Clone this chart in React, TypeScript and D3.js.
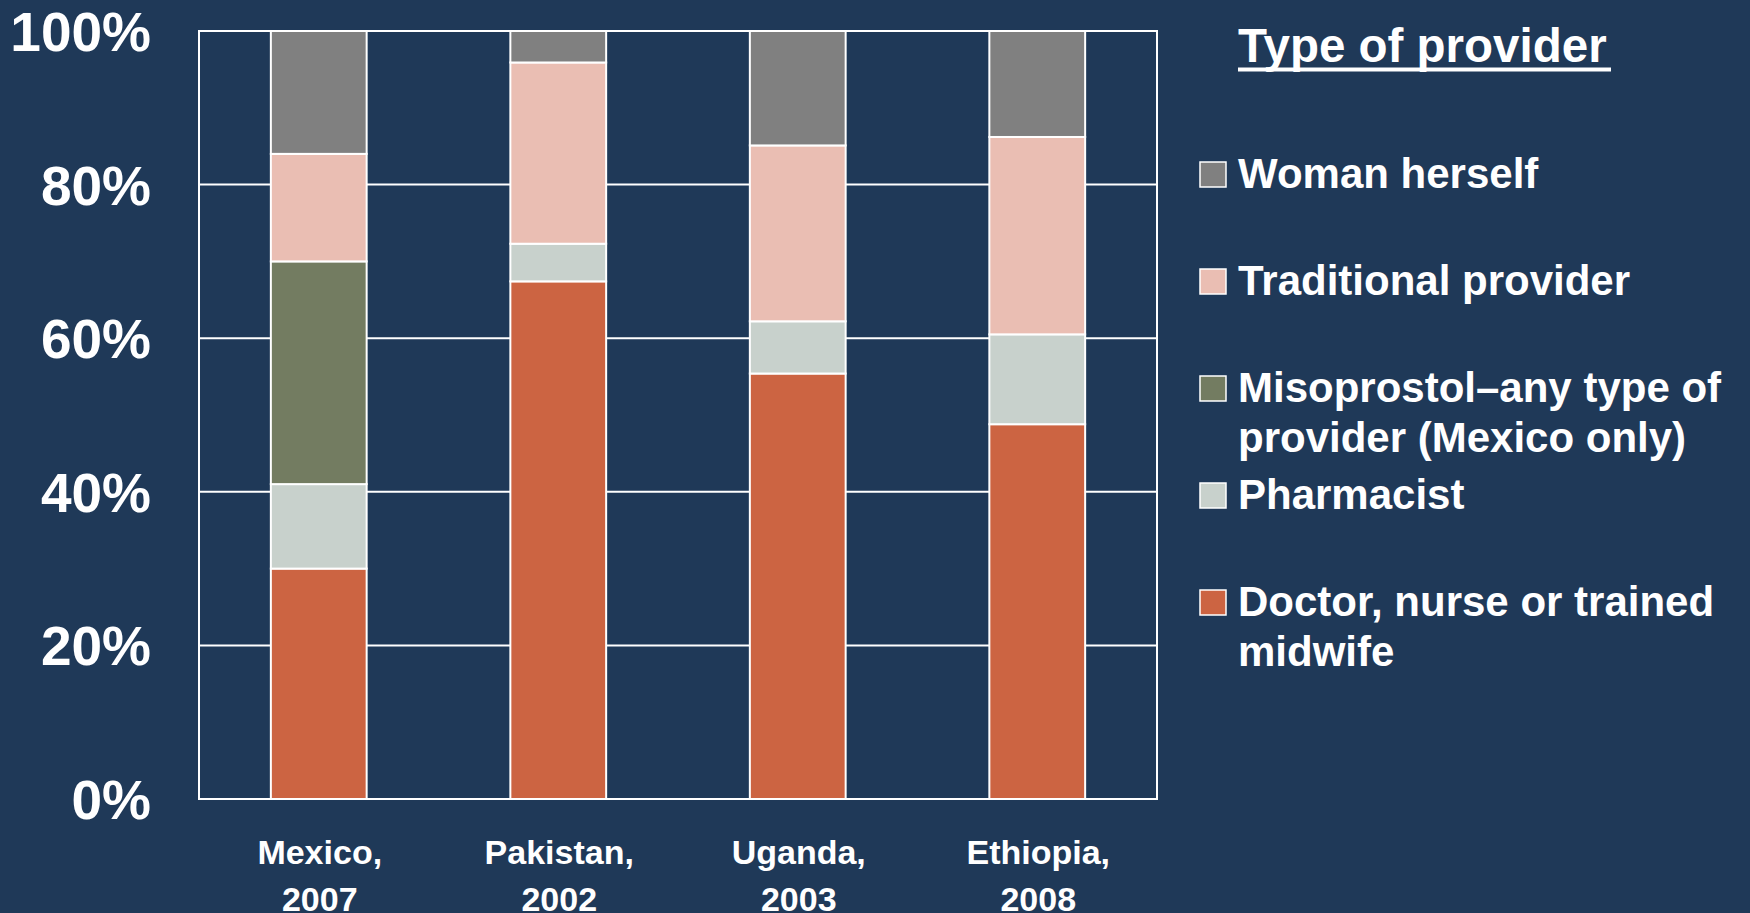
import React, { useEffect } from "react";
import * as d3 from "d3";

const countries = ["Mexico,", "Pakistan,", "Uganda,", "Ethiopia,"];
const years = ["2007", "2002", "2003", "2008"];
const doctor = [30, 67.4, 55.4, 48.8];
const pharmacist = [11, 4.9, 6.8, 11.7];
const misoprostol = [29, 0, 0, 0];
const traditional = [14, 23.6, 22.9, 25.7];
const woman = [16, 4.1, 14.9, 13.8];
const yTicks = [0, 20, 40, 60, 80, 100];

const seriesKeys = ["doctor", "pharmacist", "misoprostol", "traditional", "woman"];
const seriesColors: Record<string, string> = {
  doctor: "#cc6442",
  pharmacist: "#c8d1cc",
  misoprostol: "#737c61",
  traditional: "#eabeb3",
  woman: "#808080",
};
const legendLabels: Record<string, string[]> = {
  woman: ["Woman herself"],
  traditional: ["Traditional provider"],
  misoprostol: ["Misoprostol\u2013any type of", "provider (Mexico only)"],
  pharmacist: ["Pharmacist"],
  doctor: ["Doctor, nurse or trained", "midwife"],
};
const legendOrder = ["woman", "traditional", "misoprostol", "pharmacist", "doctor"];

const W = 1750;
const H = 913;
const BG = "#1f3958";
const FONT = "'Liberation Sans', Arial, Helvetica, sans-serif";

export default function App() {
  useEffect(() => {
    document.body.style.margin = "0";
    document.body.style.background = BG;
  }, []);

  const rows = countries.map((c, i) => ({
    key: c + " " + years[i],
    doctor: doctor[i],
    pharmacist: pharmacist[i],
    misoprostol: misoprostol[i],
    traditional: traditional[i],
    woman: woman[i],
  }));
  const stacked = d3.stack<any>().keys(seriesKeys)(rows);

  const x = d3
    .scaleBand<string>()
    .domain(rows.map((r) => r.key))
    .range([199, 1157])
    .paddingInner(0.6)
    .paddingOuter(0.3);
  const y = d3.scaleLinear().domain([0, 100]).range([799, 31]);

  const legendX = 1200;
  const legendBase0 = 188;
  const legendStep = 107;

  return (
    <svg
      width={W}
      height={H}
      style={{ display: "block", position: "absolute", left: 0, top: 0 }}
      fontFamily={FONT}
      fontWeight="bold"
    >
      <rect x={0} y={0} width={W} height={H} fill={BG} />
      {/* gridlines */}
      {yTicks.map((t) => (
        <line key={t} x1={x.range()[0]} x2={x.range()[1]} y1={y(t)} y2={y(t)} stroke="#ffffff" strokeWidth={2} />
      ))}
      {/* plot border */}
      <rect
        x={x.range()[0]}
        y={y(100)}
        width={x.range()[1] - x.range()[0]}
        height={y(0) - y(100)}
        fill="none"
        stroke="#ffffff"
        strokeWidth={2}
      />
      {/* bars */}
      {stacked.map((s) =>
        s.map((d, i) =>
          d[1] - d[0] > 0 ? (
            <rect
              key={s.key + i}
              x={x(rows[i].key)}
              width={x.bandwidth()}
              y={y(d[1])}
              height={y(d[0]) - y(d[1])}
              fill={seriesColors[s.key]}
              stroke="#ffffff"
              strokeWidth={2}
            />
          ) : null
        )
      )}
      {/* y axis labels */}
      {yTicks.map((t) => (
        <text key={t} x={151} y={y(t) + 20} textAnchor="end" fill="#ffffff" fontSize={55}>
          {t + "%"}
        </text>
      ))}
      {/* x labels */}
      {rows.map((r, i) => {
        const cx = (x(r.key) as number) + x.bandwidth() / 2 + 1;
        return (
          <text key={r.key} textAnchor="middle" fill="#ffffff" fontSize={34}>
            <tspan x={cx} y={864}>{countries[i]}</tspan>
            <tspan x={cx} y={911}>{years[i]}</tspan>
          </text>
        );
      })}
      {/* legend title */}
      <text x={1238} y={62} fill="#ffffff" fontSize={47.5}>Type of provider</text>
      <rect x={1238} y={67.5} width={373} height={4} fill="#ffffff" />
      {/* legend items */}
      {legendOrder.map((k, i) => {
        const base = legendBase0 + i * legendStep;
        return (
          <g key={k}>
            <rect x={legendX} y={base - 26} width={26} height={25} fill={seriesColors[k]} stroke="#ffffff" strokeWidth={1.5} />
            <text fill="#ffffff" fontSize={42}>
              {legendLabels[k].map((line, j) => (
                <tspan key={j} x={1238} y={base + j * 50}>{line}</tspan>
              ))}
            </text>
          </g>
        );
      })}
    </svg>
  );
}
